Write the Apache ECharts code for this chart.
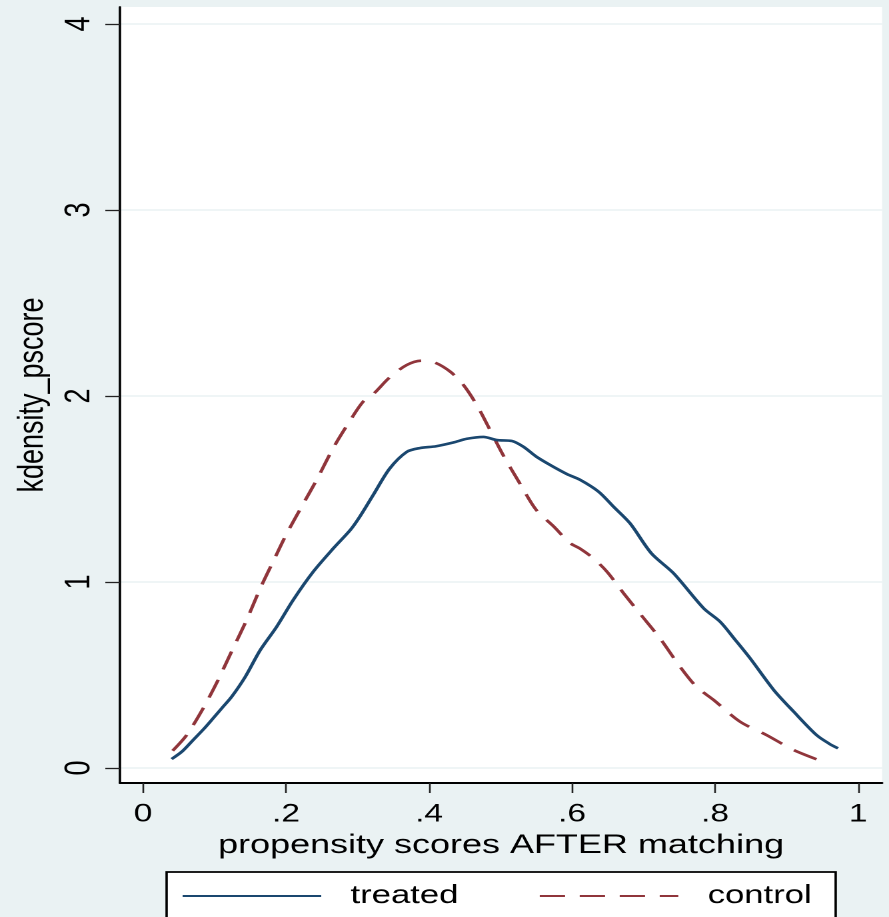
<!DOCTYPE html>
<html>
<head>
<meta charset="utf-8">
<script src="https://cdn.jsdelivr.net/npm/echarts@6/dist/echarts.min.js"></script>
<style>
  html, body { margin: 0; padding: 0; background: #eaf2f3; }
  #wrap { width: 889px; height: 917px; overflow: hidden; background: #eaf2f3; }
  /* the graph is laid out at 667px and stretched horizontally to 889px */
  #chart { width: 667px; height: 917px; transform: scaleX(1.33283); transform-origin: 0 0; }
</style>
</head>
<body>
<div id="wrap"><div id="chart"></div></div>
<script>
// Kernel density of the propensity score, after matching
const treatedX = [0.040, 0.055, 0.070, 0.085, 0.098, 0.111, 0.124, 0.143, 0.164, 0.187, 0.210, 0.238, 0.266, 0.290, 0.303, 0.322, 0.345, 0.369, 0.387, 0.410, 0.434, 0.453, 0.476, 0.495, 0.516, 0.532, 0.550, 0.569, 0.593, 0.611, 0.637, 0.658, 0.681, 0.711, 0.742, 0.784, 0.807, 0.828, 0.849, 0.882, 0.910, 0.942, 0.960, 0.972];
const treatedY = [0.048, 0.090, 0.150, 0.210, 0.267, 0.325, 0.383, 0.490, 0.634, 0.760, 0.903, 1.055, 1.180, 1.280, 1.350, 1.468, 1.610, 1.700, 1.720, 1.730, 1.750, 1.770, 1.780, 1.763, 1.758, 1.727, 1.674, 1.630, 1.580, 1.550, 1.486, 1.405, 1.316, 1.154, 1.047, 0.859, 0.787, 0.690, 0.590, 0.420, 0.303, 0.177, 0.130, 0.106];

const controlX = [0.0415, 0.061, 0.084, 0.105, 0.124, 0.145, 0.164, 0.182, 0.201, 0.224, 0.243, 0.266, 0.290, 0.308, 0.322, 0.345, 0.369, 0.390, 0.408, 0.430, 0.448, 0.467, 0.485, 0.504, 0.527, 0.550, 0.574, 0.597, 0.611, 0.630, 0.649, 0.672, 0.695, 0.723, 0.751, 0.774, 0.798, 0.835, 0.872, 0.910, 0.942];
const controlY = [0.093, 0.177, 0.320, 0.473, 0.627, 0.796, 0.966, 1.110, 1.260, 1.420, 1.550, 1.720, 1.870, 1.970, 2.010, 2.100, 2.167, 2.190, 2.180, 2.130, 2.060, 1.950, 1.820, 1.680, 1.530, 1.387, 1.300, 1.210, 1.180, 1.127, 1.055, 0.940, 0.830, 0.697, 0.545, 0.437, 0.366, 0.249, 0.177, 0.097, 0.047];

const xTickValues = [0, 0.2, 0.4, 0.6, 0.8, 1];
const xTickLabels = ['0', '.2', '.4', '.6', '.8', '1'];
const yTickValues = [0, 1, 2, 3, 4];
const yTickLabels = ['0', '1', '2', '3', '4'];

const seriesNames = ['treated', 'control'];
const xTitle = 'propensity scores AFTER matching';
const yTitle = 'kdensity_pscore';

const FONT = '"Liberation Sans", Arial, sans-serif';
const NAVY = '#1a476f';
const MAROON = '#90353b';
const BG = '#eaf2f3';

function pairs(xs, ys) { return xs.map((x, i) => [x, ys[i]]); }
function lookup(values, labels) {
  return function (v) {
    for (let i = 0; i < values.length; i++) {
      if (Math.abs(values[i] - v) < 1e-9) return labels[i];
    }
    return '';
  };
}

const chart = echarts.init(document.getElementById('chart'), null, { renderer: 'canvas', devicePixelRatio: 2 });

chart.setOption({
  backgroundColor: BG,
  animation: false,
  textStyle: { fontFamily: FONT },
  grid: {
    left: 90, right: 5.2, top: 7, bottom: 134,
    show: true, backgroundColor: '#ffffff', borderWidth: 0
  },
  xAxis: {
    type: 'value',
    min: -0.0322, max: 1.0336,
    name: xTitle,
    nameLocation: 'middle',
    nameGap: 44,
    nameTextStyle: { fontSize: 27, color: '#000', fontFamily: FONT },
    axisLine: { show: true, onZero: false, lineStyle: { color: '#000', width: 2 } },
    axisTick: { show: true, length: 10, customValues: xTickValues, lineStyle: { color: '#222', width: 1.3 } },
    axisLabel: { customValues: xTickValues, formatter: lookup(xTickValues, xTickLabels), margin: 19, fontSize: 25, color: '#000', fontFamily: FONT },
    splitLine: { show: false }
  },
  yAxis: {
    type: 'value',
    min: -0.0806, max: 4.0914,
    name: yTitle,
    nameLocation: 'middle',
    nameGap: 48,
    nameRotate: 90,
    nameTextStyle: { fontSize: 27, color: '#000', fontFamily: FONT },
    axisLine: { show: true, onZero: false, lineStyle: { color: '#000', width: 1.8 } },
    axisTick: { show: true, length: 11, customValues: yTickValues, lineStyle: { color: '#222', width: 1.3 } },
    axisLabel: { customValues: yTickValues, formatter: lookup(yTickValues, yTickLabels), rotate: 90, margin: 17, fontSize: 27, color: '#000', fontFamily: FONT },
    splitLine: { show: true, lineStyle: { color: BG, width: 1.5 } }
  },
  legend: {
    left: 125, top: 872,
    orient: 'horizontal',
    backgroundColor: '#ffffff',
    borderColor: '#000', borderWidth: 1.8, borderRadius: 0,
    padding: [11, 18, 40, 11],
    itemWidth: 104, itemHeight: 14, itemGap: 60,
    itemStyle: { opacity: 0 },
    textStyle: { fontSize: 26, color: '#000', fontFamily: FONT, padding: [0, 0, 0, 17] },
    data: seriesNames
  },
  series: [
    {
      name: seriesNames[0],
      type: 'line',
      data: pairs(treatedX, treatedY),
      smooth: 0.3,
      symbol: 'none',
      lineStyle: { color: NAVY, width: 2.6 },
      itemStyle: { color: NAVY },
      z: 3
    },
    {
      name: seriesNames[1],
      type: 'line',
      data: pairs(controlX, controlY),
      smooth: 0.3,
      symbol: 'none',
      lineStyle: { color: MAROON, width: 2.6, type: [19, 11] },
      itemStyle: { color: MAROON },
      z: 2
    }
  ]
});
</script>
</body>
</html>
